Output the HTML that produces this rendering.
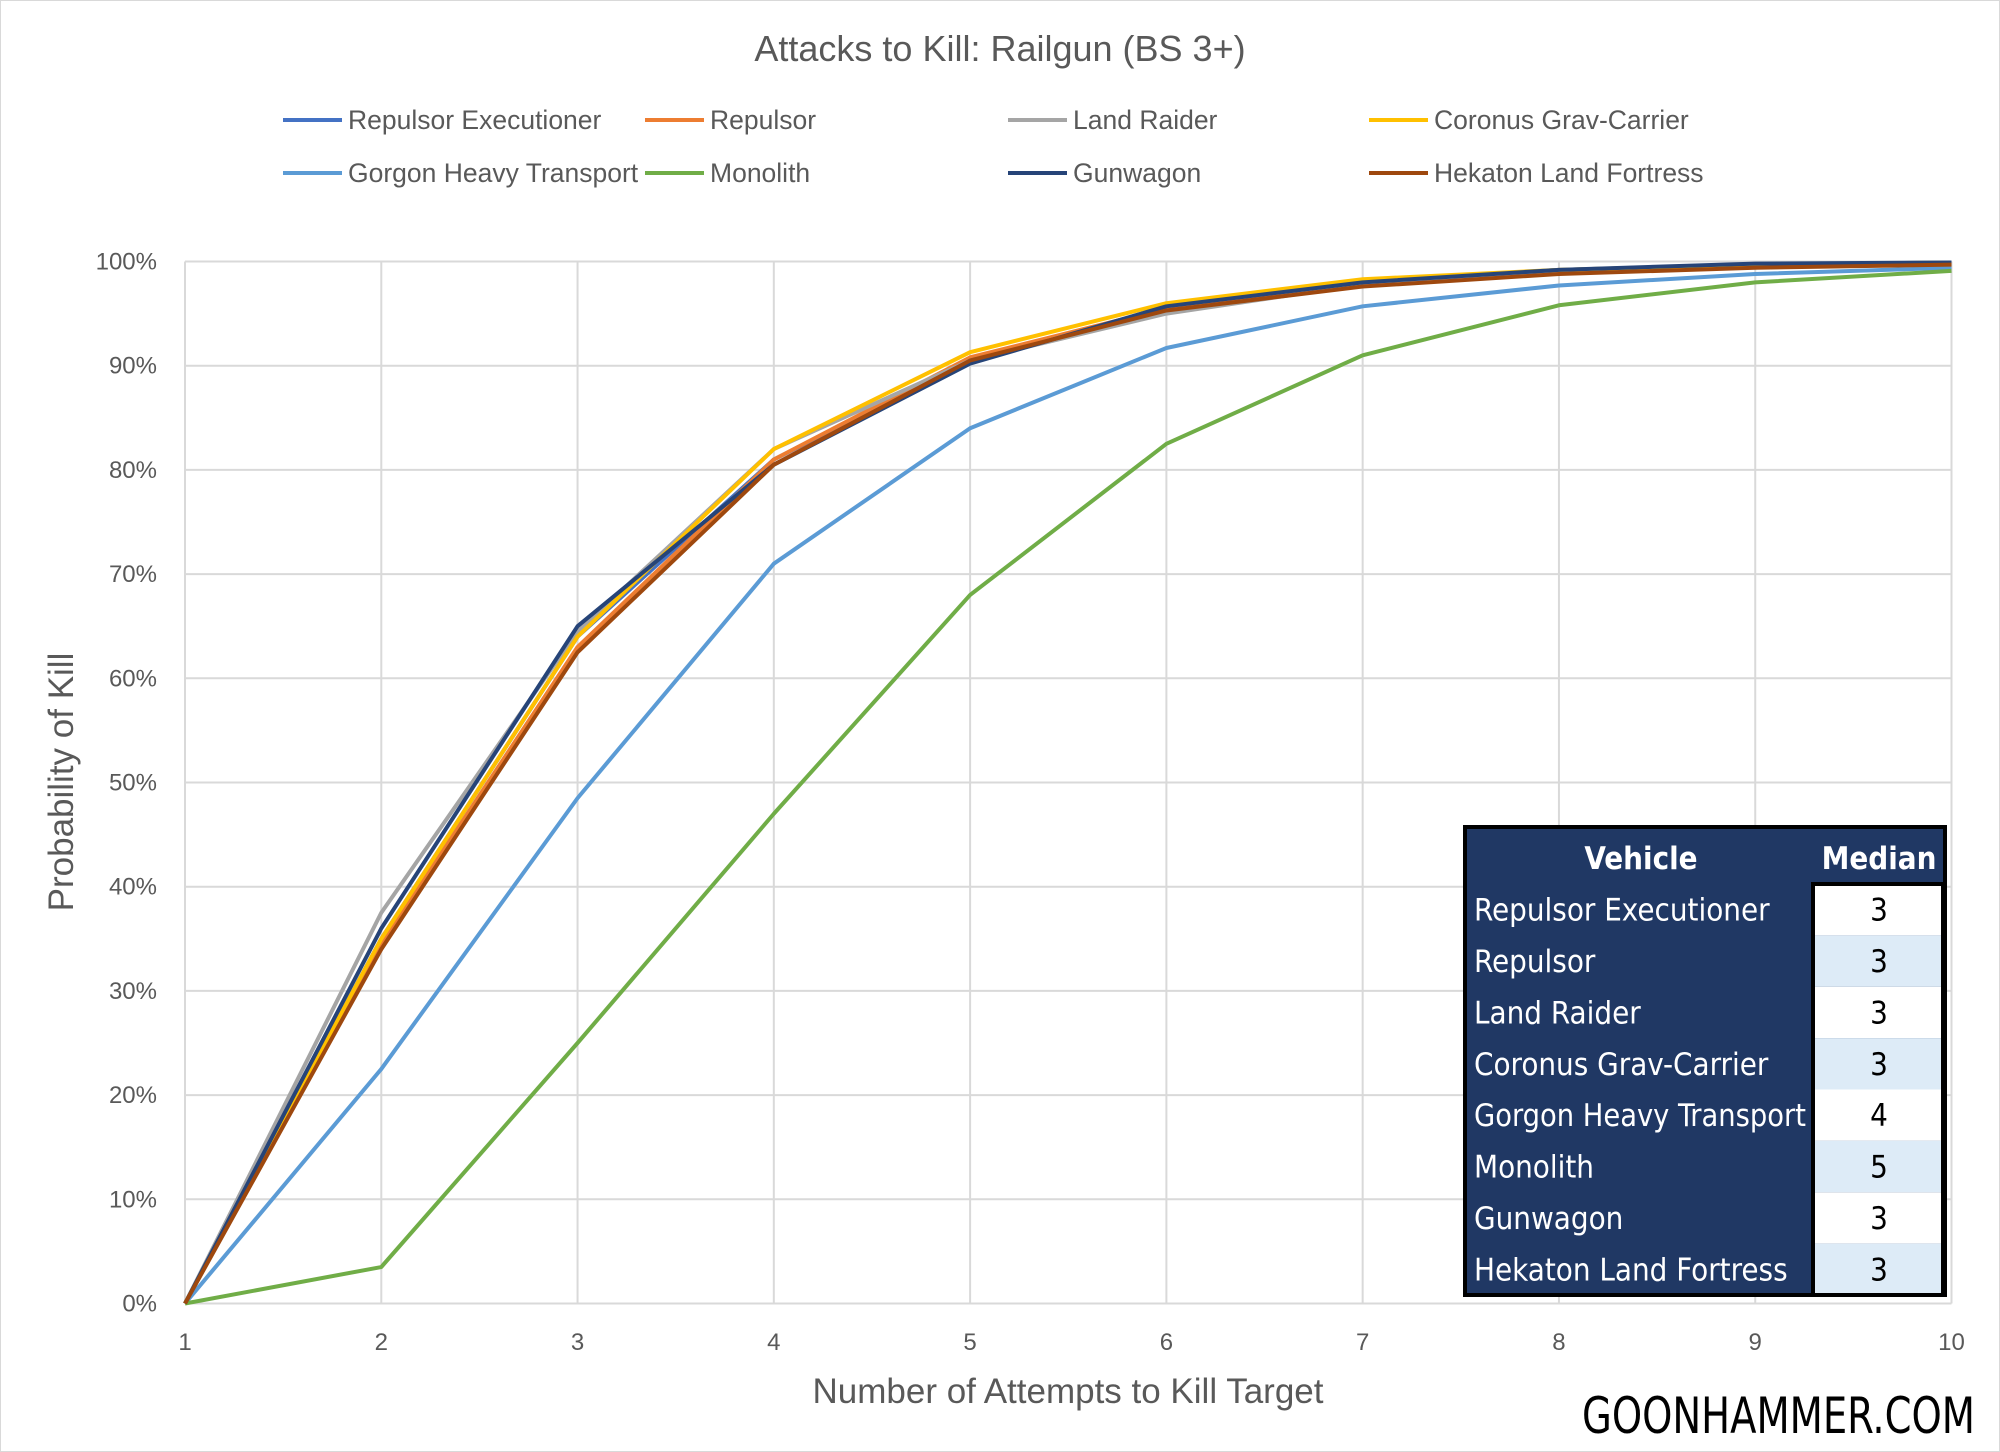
<!DOCTYPE html>
<html><head><meta charset="utf-8"><style>
html,body{margin:0;padding:0;background:#fff}
body{width:2000px;height:1452px;overflow:hidden;position:relative;font-family:"Liberation Sans",sans-serif}
#frame{position:absolute;left:0;top:0;width:1998px;height:1450px;border:1px solid #d9d9d9}
</style></head><body>
<div id="frame"></div>
<svg id="chart" width="2000" height="1452" style="position:absolute;left:0;top:0"></svg>
<script>
const categories=[1,2,3,4,5,6,7,8,9,10];
const seriesNames=["Repulsor Executioner","Repulsor","Land Raider","Coronus Grav-Carrier","Gorgon Heavy Transport","Monolith","Gunwagon","Hekaton Land Fortress"];
const seriesColors=["#4472C4","#ED7D31","#A5A5A5","#FFC000","#5B9BD5","#70AD47","#264478","#9E480E"];
const repulsorExecutioner=[0,35,64,81,90.5,95.5,98,99.2,99.7,99.9];
const repulsor=[0,34.5,63,81,90.8,95.5,98,99.1,99.6,99.8];
const landRaider=[0,37.5,64.5,82,90.5,95,97.8,99,99.6,99.8];
const coronus=[0,35,64,82,91.3,96,98.3,99.2,99.7,99.9];
const gorgon=[0,22.5,48.5,71,84,91.7,95.7,97.7,98.8,99.4];
const monolith=[0,3.5,25,47,68,82.5,91,95.8,98,99.1];
const gunwagon=[0,36,65,80.5,90.2,95.7,98,99.2,99.8,99.9];
const hekaton=[0,34,62.5,80.5,90.5,95.3,97.6,98.8,99.4,99.7];
const yTicks=[0,10,20,30,40,50,60,70,80,90,100];
const medians=[3,3,3,3,4,5,3,3];

const allSeries=[repulsorExecutioner,repulsor,landRaider,coronus,gorgon,monolith,gunwagon,hekaton];
const NS="http://www.w3.org/2000/svg";
const svg=document.getElementById('chart');
const L=185,R=1951.5,T=261.5,B=1303.5;
function xs(v){return L+(v-1)/9*(R-L);}
function ys(v){return B-v/100*(B-T);}
function mk(tag,attrs,parent){const e=document.createElementNS(NS,tag);for(const k in attrs)e.setAttribute(k,attrs[k]);(parent||svg).appendChild(e);return e;}
const F='"Liberation Sans", sans-serif';

let t=mk('text',{x:1000,y:61,'text-anchor':'middle','font-size':36,fill:'#595959','font-family':F});
t.textContent='Attacks to Kill: Railgun (BS 3+)';



yTicks.forEach(v=>{
  const g=mk('line',{x1:L,x2:R,y1:ys(v),y2:ys(v),stroke:'#d9d9d9','stroke-width':2});
  
  
  const lb=mk('text',{x:157,y:ys(v)+8,'text-anchor':'end','font-size':24,fill:'#595959','font-family':F});
  lb.textContent=v+'%';
  
  
});
categories.forEach(c=>{
  const g=mk('line',{x1:xs(c),x2:xs(c),y1:T,y2:B,stroke:'#d9d9d9','stroke-width':2});
  
  
  const lb=mk('text',{x:xs(c),y:1350,'text-anchor':'middle','font-size':24,fill:'#595959','font-family':F});
  lb.textContent=c;
  
  
});

let xt=mk('text',{x:1068,y:1403,'text-anchor':'middle','font-size':35,fill:'#595959','font-family':F});
xt.textContent='Number of Attempts to Kill Target';


let yt=mk('text',{x:0,y:0,'text-anchor':'middle','font-size':35,fill:'#595959','font-family':F,transform:'translate(73,782) rotate(-90)'});
yt.textContent='Probability of Kill';



allSeries.forEach((s,i)=>{
  const pts=s.map((v,j)=>xs(categories[j])+','+ys(v)).join(' ');
  const p=mk('polyline',{points:pts,fill:'none',stroke:seriesColors[i],'stroke-width':4,'stroke-linejoin':'round'});
  
  
});

const legX=[283,645,1008,1369],legY=[120,173];
seriesNames.forEach((n,i)=>{
  const cx=legX[i%4],cy=legY[Math.floor(i/4)];
  const g=mk('g',{});
  
  
  mk('line',{x1:cx,x2:cx+59,y1:cy,y2:cy,stroke:seriesColors[i],'stroke-width':4},g);
  const tx=mk('text',{x:cx+65,y:cy+9,'font-size':26.5,fill:'#595959','font-family':F},g);
  tx.textContent=n;
});

const TL=1465,TR=1945,TT=827,TB=1295,HB=884,MC=1813;
const tg=mk('g',{});


mk('rect',{x:TL,y:TT,width:TR-TL,height:TB-TT,fill:'#203864',stroke:'#000','stroke-width':4},tg);
const TF='"DejaVu Sans Condensed","Liberation Sans Narrow","Liberation Sans",sans-serif';
let h1=mk('text',{x:1641,y:869,'text-anchor':'middle','font-size':31,'font-weight':'bold',fill:'#fff','font-family':TF},tg);
h1.textContent='Vehicle';


let h2=mk('text',{x:1879,y:869,'text-anchor':'middle','font-size':31,'font-weight':'bold',fill:'#fff','font-family':TF},tg);
h2.textContent='Median';


const rh=(TB-HB)/medians.length;
medians.forEach((m,i)=>{
  const y0=HB+i*rh;
  const r=mk('rect',{x:MC,y:y0,width:TR-MC-2,height:rh,fill:i%2?'#DDEBF7':'#fff'},tg);
  
  
  const nt=mk('text',{x:1474,y:y0+rh/2+11,'font-size':31,fill:'#fff','font-family':TF},tg);
  nt.textContent=seriesNames[i];
  
  
  if(nt.getComputedTextLength()>332){nt.setAttribute('textLength',332);nt.setAttribute('lengthAdjust','spacingAndGlyphs');}
  const mt=mk('text',{x:1879,y:y0+rh/2+11,'text-anchor':'middle','font-size':31,fill:'#000','font-family':TF},tg);
  mt.textContent=m;
  
  
});
mk('rect',{x:MC,y:HB,width:TR-MC-2,height:TB-HB,fill:'none',stroke:'#000','stroke-width':4},tg);

let w=mk('text',{x:1582,y:1433,'font-size':50,fill:'#000','font-family':TF,textLength:393,lengthAdjust:'spacingAndGlyphs'});
w.textContent='GOONHAMMER.COM';


</script>
</body></html>
